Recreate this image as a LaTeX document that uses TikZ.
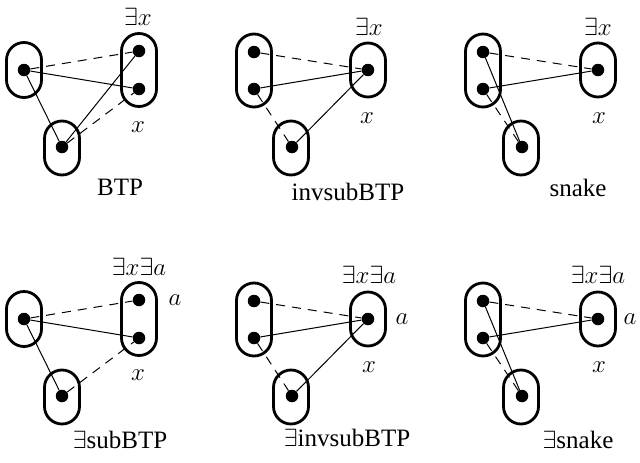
\documentclass[tikz,border=0pt]{standalone}
\usepackage{fontspec}
\setmainfont{Liberation Serif}
\begin{document}
\begin{tikzpicture}[x=1pt,y=-1pt,
  capsule/.style={draw, line width=2.8pt, rounded corners=17.5pt, minimum width=35pt, inner sep=0pt},
  blob/.style={circle, fill, inner sep=0pt, minimum size=12.5pt},
  lnk/.style={line width=1pt},
  dsh/.style={line width=1pt, dash pattern=on 9pt off 7pt},
  lbl/.style={font=\fontsize{25}{30}\selectfont, inner sep=0pt}]
\useasboundingbox (0,0) rectangle (640,463);

% ---------- Panel 1: BTP ----------
\node[capsule, minimum height=55pt] (c1l) at (24,70) {};
\node[capsule, minimum height=73pt] (c1r) at (139,70) {};
\node[capsule, minimum height=54pt] (c1b) at (62,148) {};
\node[blob] (d1l) at (24,70) {};
\node[blob] (d1rt) at (139,51) {};
\node[blob] (d1rb) at (139,89) {};
\node[blob] (d1b) at (62,147) {};
\draw[dsh] (d1l) -- (d1rt);
\draw[lnk] (d1l) -- (d1rb);
\draw[lnk] (d1l) -- (d1b);
\draw[lnk] (d1b) -- (d1rt);
\draw[dsh] (d1b) -- (d1rb);
\node[lbl] (t1e) at (138,17) {$\exists x$};
\node[lbl] (t1x) at (138,127) {$x$};
\node[lbl] (t1n) at (120,187) {BTP};

% ---------- Panel 2: invsubBTP ----------
\node[capsule, minimum height=73pt] (c2l) at (254,70.5) {};
\node[capsule, minimum height=54pt] (c2r) at (368,70) {};
\node[capsule, minimum height=54pt] (c2b) at (291,148) {};
\node[blob] (d2lt) at (254,52) {};
\node[blob] (d2lb) at (254,89) {};
\node[blob] (d2r) at (368,70) {};
\node[blob] (d2b) at (292,147) {};
\draw[dsh] (d2lt) -- (d2r);
\draw[lnk] (d2lb) -- (d2r);
\draw[lnk] (d2b) -- (d2r);
\draw[dsh] (d2lb) -- (d2b);
\node[lbl] (t2e) at (369,27) {$\exists x$};
\node[lbl] (t2x) at (367,118) {$x$};
\node[lbl] (t2n) at (348,192) {invsubBTP};

% ---------- Panel 3: snake ----------
\node[capsule, minimum height=73pt] (c3l) at (483,70.5) {};
\node[capsule, minimum height=54pt] (c3r) at (598,70) {};
\node[capsule, minimum height=54pt] (c3b) at (521,148) {};
\node[blob] (d3lt) at (483,52) {};
\node[blob] (d3lb) at (483,89) {};
\node[blob] (d3r) at (598,70) {};
\node[blob] (d3b) at (522,147) {};
\draw[dsh] (d3lt) -- (d3r);
\draw[lnk] (d3lb) -- (d3r);
\draw[lnk] (d3lt) -- (d3b);
\draw[dsh] (d3lb) -- (d3b);
\node[lbl] (t3e) at (598,27) {$\exists x$};
\node[lbl] (t3x) at (599,118) {$x$};
\node[lbl] (t3n) at (578,188) {snake};

% ---------- Panel 4: ∃subBTP ----------
\node[capsule, minimum height=55pt] (c4l) at (24,319) {};
\node[capsule, minimum height=73pt] (c4r) at (139,319) {};
\node[capsule, minimum height=54pt] (c4b) at (62,397) {};
\node[blob] (d4l) at (24,319) {};
\node[blob] (d4rt) at (139,300) {};
\node[blob] (d4rb) at (139,338) {};
\node[blob] (d4b) at (62,396) {};
\draw[dsh] (d4l) -- (d4rt);
\draw[lnk] (d4l) -- (d4rb);
\draw[lnk] (d4l) -- (d4b);
\draw[dsh] (d4b) -- (d4rb);
\node[lbl] (t4e) at (139,267) {$\exists x\exists a$};
\node[lbl] (t4a) at (175,300) {$a$};
\node[lbl] (t4x) at (138,375) {$x$};
\node[lbl] (t4n) at (120,440) {$\exists$subBTP};

% ---------- Panel 5: ∃invsubBTP ----------
\node[capsule, minimum height=73pt] (c5l) at (254,319.5) {};
\node[capsule, minimum height=54pt] (c5r) at (368,319) {};
\node[capsule, minimum height=54pt] (c5b) at (291,397) {};
\node[blob] (d5lt) at (254,301) {};
\node[blob] (d5lb) at (254,338) {};
\node[blob] (d5r) at (368,319) {};
\node[blob] (d5b) at (292,396) {};
\draw[dsh] (d5lt) -- (d5r);
\draw[lnk] (d5lb) -- (d5r);
\draw[lnk] (d5b) -- (d5r);
\draw[dsh] (d5lb) -- (d5b);
\node[lbl] (t5e) at (369,275) {$\exists x\exists a$};
\node[lbl] (t5a) at (402,319) {$a$};
\node[lbl] (t5x) at (369,367) {$x$};
\node[lbl] (t5n) at (347,438) {$\exists$invsubBTP};

% ---------- Panel 6: ∃snake ----------
\node[capsule, minimum height=73pt] (c6l) at (483,319.5) {};
\node[capsule, minimum height=54pt] (c6r) at (598,319) {};
\node[capsule, minimum height=54pt] (c6b) at (521,397) {};
\node[blob] (d6lt) at (483,301) {};
\node[blob] (d6lb) at (483,338) {};
\node[blob] (d6r) at (598,319) {};
\node[blob] (d6b) at (522,396) {};
\draw[dsh] (d6lt) -- (d6r);
\draw[lnk] (d6lb) -- (d6r);
\draw[lnk] (d6lt) -- (d6b);
\draw[dsh] (d6lb) -- (d6b);
\node[lbl] (t6e) at (598,275) {$\exists x\exists a$};
\node[lbl] (t6a) at (630,319) {$a$};
\node[lbl] (t6x) at (599,367) {$x$};
\node[lbl] (t6n) at (578,440) {$\exists$snake};
\end{tikzpicture}
\end{document}
